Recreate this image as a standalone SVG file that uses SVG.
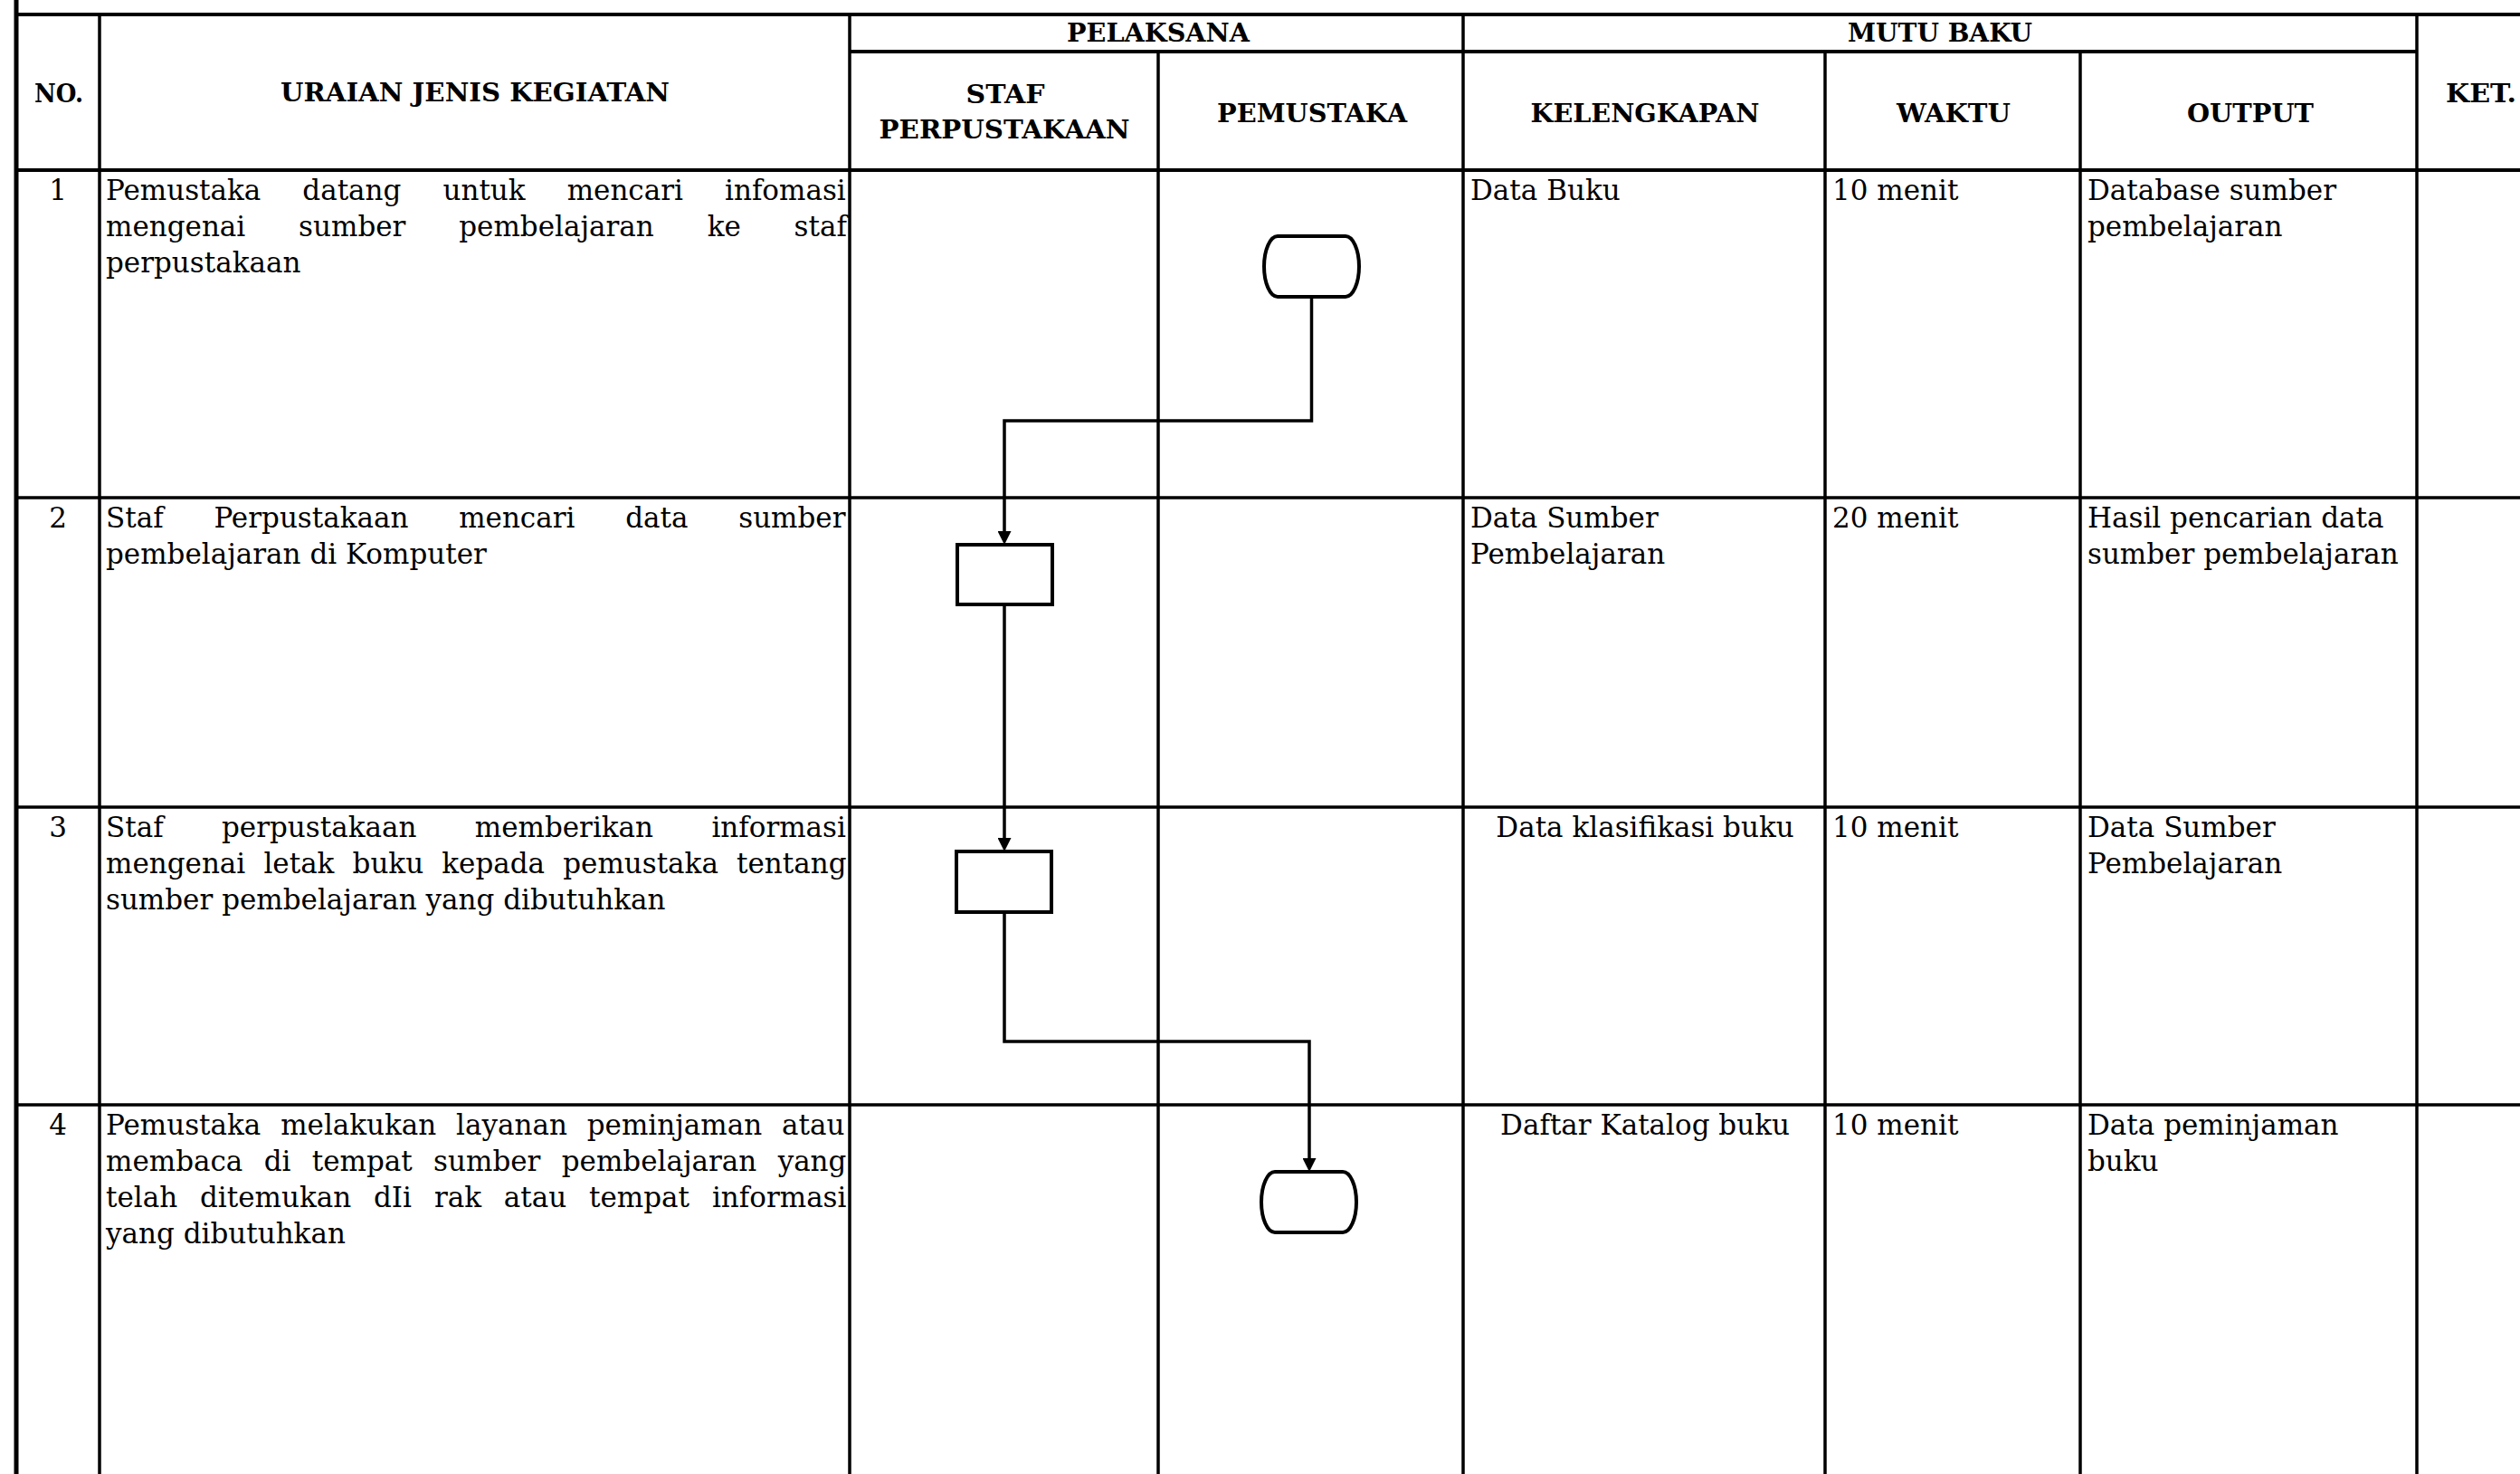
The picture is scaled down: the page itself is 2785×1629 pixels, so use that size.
<svg xmlns="http://www.w3.org/2000/svg" width="2785" height="1629" viewBox="0 0 2785 1629">
<style>
  .ln { stroke:#000; stroke-width:3.5; fill:none; }
  .b { font-family:"DejaVu Serif","Liberation Serif",serif; font-size:31px; fill:#000; }
  .h { font-family:"DejaVu Serif","Liberation Serif",serif; font-size:27px; font-weight:bold; fill:#000; }
  .c { text-anchor:middle; }
  .shape { fill:#fff; stroke:#000; stroke-width:4; }
  .conn { fill:none; stroke:#000; stroke-width:3.5; }
</style>
<defs>
  <marker id="arrow" viewBox="0 0 15 15" refX="9" refY="7.5" markerWidth="15" markerHeight="15" markerUnits="userSpaceOnUse" orient="auto">
    <path d="M0,0 L15,7.5 L0,15 z" fill="#000"/>
  </marker>
</defs>
<rect width="2785" height="1629" fill="#fff"/>

<g id="grid">
  <line class="ln" x1="16" y1="16" x2="2785" y2="16" style="stroke-width:4"/>
  <line class="ln" x1="18" y1="0" x2="18" y2="1629" style="stroke-width:5"/>
  <line class="ln" x1="110" y1="16" x2="110" y2="1629"/>
  <line class="ln" x1="939" y1="16" x2="939" y2="1629"/>
  <line class="ln" x1="1280" y1="57" x2="1280" y2="1629"/>
  <line class="ln" x1="1617" y1="16" x2="1617" y2="1629"/>
  <line class="ln" x1="2017" y1="57" x2="2017" y2="1629"/>
  <line class="ln" x1="2299" y1="57" x2="2299" y2="1629"/>
  <line class="ln" x1="2671" y1="16" x2="2671" y2="1629"/>
  <line class="ln" x1="939" y1="57" x2="2671" y2="57" style="stroke-width:4"/>
  <line class="ln" x1="16" y1="188" x2="2785" y2="188" style="stroke-width:4"/>
  <line class="ln" x1="16" y1="550" x2="2785" y2="550"/>
  <line class="ln" x1="16" y1="892" x2="2785" y2="892"/>
  <line class="ln" x1="16" y1="1221" x2="2785" y2="1221"/>
</g>

<g id="header">
  <text class="h c" x="65" y="113" textLength="54" lengthAdjust="spacingAndGlyphs">NO.</text>
  <text class="h c" x="525" y="112" textLength="430" lengthAdjust="spacingAndGlyphs">URAIAN JENIS KEGIATAN</text>
  <text class="h c" x="1280" y="46" textLength="202" lengthAdjust="spacingAndGlyphs">PELAKSANA</text>
  <text class="h c" x="2144" y="46" textLength="204" lengthAdjust="spacingAndGlyphs">MUTU BAKU</text>
  <text class="h c" x="1111" y="114" textLength="87" lengthAdjust="spacingAndGlyphs">STAF</text>
  <text class="h c" x="1110" y="153" textLength="277" lengthAdjust="spacingAndGlyphs">PERPUSTAKAAN</text>
  <text class="h c" x="1450" y="135" textLength="210" lengthAdjust="spacingAndGlyphs">PEMUSTAKA</text>
  <text class="h c" x="1818" y="135" textLength="253" lengthAdjust="spacingAndGlyphs">KELENGKAPAN</text>
  <text class="h c" x="2159" y="135" textLength="126" lengthAdjust="spacingAndGlyphs">WAKTU</text>
  <text class="h c" x="2487" y="135" textLength="140" lengthAdjust="spacingAndGlyphs">OUTPUT</text>
  <text class="h" x="2703" y="113" textLength="78" lengthAdjust="spacingAndGlyphs">KET.</text>
</g>

<g id="row-1">
  <text class="b c" x="64" y="221">1</text>
  <text class="b" x="117" y="221" style="word-spacing:36.2px">Pemustaka datang untuk mencari infomasi</text>
  <text class="b" x="117" y="261" style="word-spacing:49px">mengenai sumber pembelajaran ke staf</text>
  <text class="b" x="117" y="301">perpustakaan</text>
  <text class="b" x="1625" y="221">Data Buku</text>
  <text class="b" x="2025" y="221">10 menit</text>
  <text class="b" x="2307" y="221">Database sumber</text>
  <text class="b" x="2307" y="261">pembelajaran</text>
</g>

<g id="row-2">
  <text class="b c" x="64" y="583">2</text>
  <text class="b" x="117" y="583" style="word-spacing:45.9px">Staf Perpustakaan mencari data sumber</text>
  <text class="b" x="117" y="623">pembelajaran di Komputer</text>
  <text class="b" x="1625" y="583">Data Sumber</text>
  <text class="b" x="1625" y="623">Pembelajaran</text>
  <text class="b" x="2025" y="583">20 menit</text>
  <text class="b" x="2307" y="583">Hasil pencarian data</text>
  <text class="b" x="2307" y="623">sumber pembelajaran</text>
</g>

<g id="row-3">
  <text class="b c" x="64" y="925">3</text>
  <text class="b" x="117" y="925" style="word-spacing:54.5px">Staf perpustakaan memberikan informasi</text>
  <text class="b" x="117" y="965" style="word-spacing:10.3px">mengenai letak buku kepada pemustaka tentang</text>
  <text class="b" x="117" y="1005">sumber pembelajaran yang dibutuhkan</text>
  <text class="b c" x="1818" y="925">Data klasifikasi buku</text>
  <text class="b" x="2025" y="925">10 menit</text>
  <text class="b" x="2307" y="925">Data Sumber</text>
  <text class="b" x="2307" y="965">Pembelajaran</text>
</g>

<g id="row-4">
  <text class="b c" x="64" y="1254">4</text>
  <text class="b" x="117" y="1254" style="word-spacing:12px">Pemustaka melakukan layanan peminjaman atau</text>
  <text class="b" x="117" y="1294" style="word-spacing:13.5px">membaca di tempat sumber pembelajaran yang</text>
  <text class="b" x="117" y="1334" style="word-spacing:15px">telah ditemukan dIi rak atau tempat informasi</text>
  <text class="b" x="117" y="1374">yang dibutuhkan</text>
  <text class="b c" x="1818" y="1254">Daftar Katalog buku</text>
  <text class="b" x="2025" y="1254">10 menit</text>
  <text class="b" x="2307" y="1254">Data peminjaman</text>
  <text class="b" x="2307" y="1294">buku</text>
</g>

<g id="connectors">
  <path class="conn" d="M1449.5,328 V465 H1110 V596" marker-end="url(#arrow)"/>
  <path class="conn" d="M1110,668 V935" marker-end="url(#arrow)"/>
  <path class="conn" d="M1110,1008 V1151 H1447 V1289" marker-end="url(#arrow)"/>
</g>

<g id="node-start">
  <path class="shape" d="M1412,261 H1487 A15,33.5 0 0 1 1487,328 H1412 A15,33.5 0 0 1 1412,261 Z"/>
</g>
<g id="node-search">
  <rect class="shape" x="1058" y="602" width="105" height="66"/>
</g>
<g id="node-inform">
  <rect class="shape" x="1057" y="941" width="105" height="67"/>
</g>
<g id="node-end">
  <path class="shape" d="M1409,1295 H1484 A15,33.5 0 0 1 1484,1362 H1409 A15,33.5 0 0 1 1409,1295 Z"/>
</g>
</svg>
